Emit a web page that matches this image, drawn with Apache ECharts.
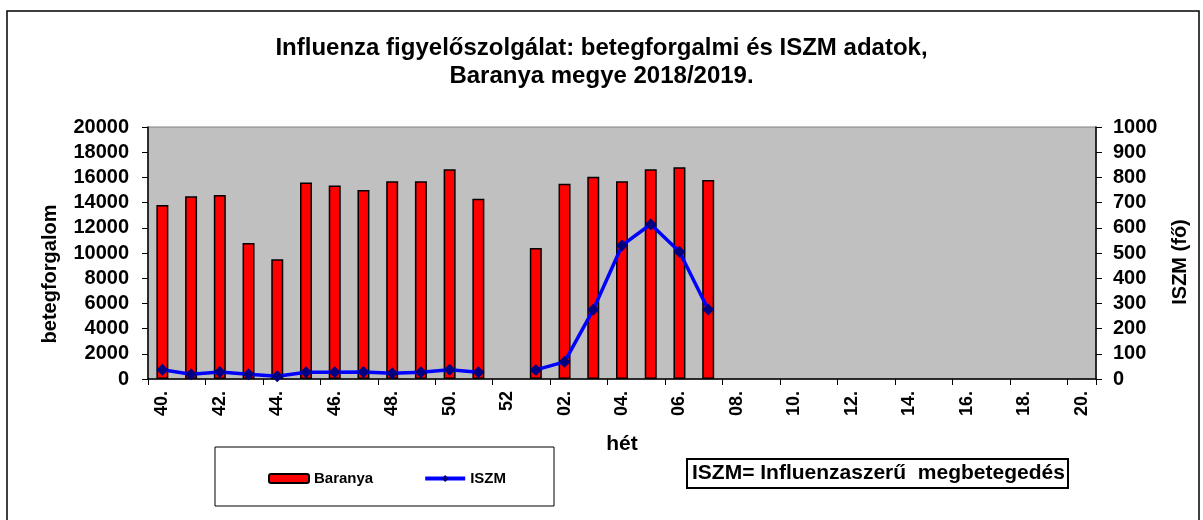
<!DOCTYPE html>
<html>
<head>
<meta charset="utf-8">
<script src="https://cdn.jsdelivr.net/npm/echarts@6/dist/echarts.min.js"></script>
<style>
    html, body { margin: 0; padding: 0; background: #fff; }
    #chart { width: 1203px; height: 520px; }
</style>
</head>
<body>
<div id="chart"></div>
<script>
// hetek: 40. - 52, 01. - 20.
let weekLabels = ['40.', '41.', '42.', '43.', '44.', '45.', '46.', '47.', '48.', '49.', '50.', '51.', '52',
    '01.', '02.', '03.', '04.', '05.', '06.', '07.', '08.', '09.', '10.', '11.', '12.', '13.', '14.',
    '15.', '16.', '17.', '18.', '19.', '20.'];

// betegforgalom (bal tengely)
let barValues = [13800, 14500, 14600, 10800, 9500, 15600, 15350, 15000, 15700, 15700, 16650, 14300, null,
    10400, 15500, 16050, 15700, 16650, 16800, 15800];

// ISZM (jobb tengely)
let iszmValues = [37, 19, 28, 19, 11, 27, 27, 28, 23, 27, 37, 27, null,
    36, 68, 275, 530, 614, 505, 276];

let leftTicks = { min: 0, max: 20000, interval: 2000 };
let rightTicks = { min: 0, max: 1000, interval: 100 };

let font = 'Liberation Sans, Arial, sans-serif';
let myChart = echarts.init(document.getElementById('chart'));

let plainNumber = function(value) {
    return String(value);
};

// függőleges tengelycímek (alulról felfelé olvasva)
let verticalName = function(text, x, y) {
    return {
        type: 'text',
        x: x,
        y: y,
        rotation: Math.PI / 2,
        style: {
            text: text,
            font: 'bold 20px ' + font,
            fill: '#000',
            align: 'center',
            verticalAlign: 'middle'
        },
        silent: true
    };
};

let options = {
    animation: false,
    title: {
        text: 'Influenza figyelőszolgálat: betegforgalmi és ISZM adatok,\nBaranya megye 2018/2019.',
        left: 'center',
        top: 29,
        textStyle: {
            fontFamily: font,
            fontWeight: 'bold',
            fontSize: 24,
            lineHeight: 28,
            color: '#000'
        }
    },
    legend: {
        left: 263,
        top: 466,
        itemWidth: 40,
        itemHeight: 9,
        itemGap: 50,
        lineStyle: { width: 4 },
        textStyle: { fontFamily: font, fontWeight: 'bold', fontSize: 15, color: '#000' },
        data: ['Baranya', 'ISZM']
    },
    grid: {
        left: 148,
        right: 107,
        top: 127,
        bottom: 141,
        show: true,
        backgroundColor: '#C0C0C0',
        borderColor: '#808080',
        borderWidth: 1
    },
    xAxis: {
        type: 'category',
        data: weekLabels,
        boundaryGap: true,
        name: 'hét',
        nameLocation: 'middle',
        nameGap: 55,
        nameTextStyle: { fontFamily: font, fontWeight: 'bold', fontSize: 21, color: '#000' },
        axisLine: { lineStyle: { color: '#000', width: 1.5 } },
        axisTick: { show: true, inside: false, length: 6, alignWithLabel: false, lineStyle: { color: '#000' } },
        axisLabel: {
            interval: 1,
            rotate: 90,
            margin: 12,
            fontFamily: font,
            fontWeight: 'bold',
            fontSize: 18,
            color: '#000'
        },
        splitLine: { show: false }
    },
    yAxis: [
        {
            type: 'value',
            min: leftTicks.min,
            max: leftTicks.max,
            interval: leftTicks.interval,
            axisLine: { show: true, lineStyle: { color: '#000', width: 1.5 } },
            axisTick: { show: true, length: 6, lineStyle: { color: '#000' } },
            axisLabel: { margin: 19, formatter: plainNumber, fontFamily: font, fontWeight: 'bold', fontSize: 20, color: '#000' },
            splitLine: { show: false }
        },
        {
            type: 'value',
            position: 'right',
            min: rightTicks.min,
            max: rightTicks.max,
            interval: rightTicks.interval,
            axisLine: { show: true, lineStyle: { color: '#000', width: 1.5 } },
            axisTick: { show: true, length: 6, lineStyle: { color: '#000' } },
            axisLabel: { margin: 17, formatter: plainNumber, fontFamily: font, fontWeight: 'bold', fontSize: 20, color: '#000' },
            splitLine: { show: false }
        }
    ],
    graphic: [
        {
            type: 'rect',
            shape: { x: 7, y: 11, width: 1192, height: 540 },
            style: { fill: 'none', stroke: '#000', lineWidth: 1.5 },
            silent: true
        },
        verticalName('betegforgalom', 50, 274),
        verticalName('ISZM (fő)', 1180, 262),
        {
            type: 'rect',
            shape: { x: 215, y: 447, width: 339, height: 59 },
            style: { fill: 'none', stroke: '#000', lineWidth: 1 },
            silent: true
        },
        {
            type: 'rect',
            shape: { x: 687, y: 459, width: 381, height: 29 },
            style: { fill: '#fff', stroke: '#000', lineWidth: 2 },
            silent: true
        },
        {
            type: 'text',
            left: 692,
            top: 463,
            style: {
                text: 'ISZM= Influenzaszerű  megbetegedés',
                font: 'bold 21px ' + font,
                fill: '#000'
            },
            silent: true
        }
    ],
    series: [
        {
            name: 'Baranya',
            type: 'bar',
            yAxisIndex: 0,
            barWidth: 12,
            itemStyle: { color: '#FF0000', borderColor: '#000', borderWidth: 1.5 },
            data: barValues
        },
        {
            name: 'ISZM',
            type: 'line',
            yAxisIndex: 1,
            connectNulls: false,
            symbol: 'diamond',
            symbolSize: 12,
            lineStyle: { color: '#0000FF', width: 3.5 },
            itemStyle: { color: '#000080' },
            data: iszmValues
        }
    ]
};

myChart.setOption(options);
</script>
</body>
</html>
